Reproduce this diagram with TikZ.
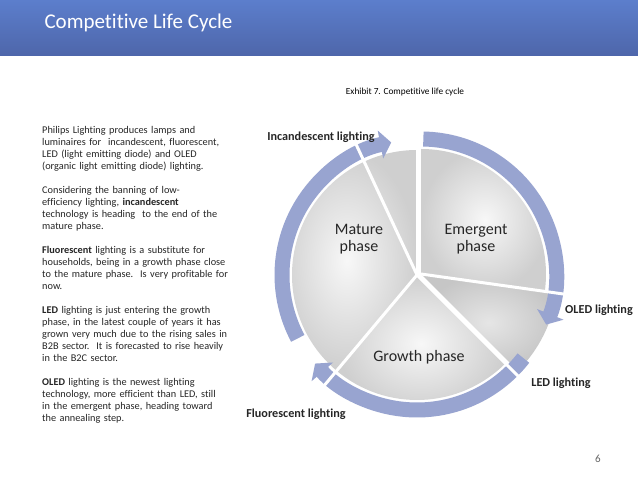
\documentclass[tikz,border=0pt]{standalone}
\usepackage{fontspec}
\setmainfont{Carlito}[Ligatures=NoCommon]
\usetikzlibrary{arrows.meta}
\definecolor{barblue}{RGB}{92,126,204}
\definecolor{bardark}{RGB}{78,102,170}
\definecolor{ringblue}{RGB}{152,164,208}
\tikzset{
  sector/.style={inner color=gray!6, outer color=gray!38, draw=none},
  ring/.style={draw=ringblue, line width=15pt, -{Triangle[width=28pt,length=11pt]}},
  spoke/.style={draw=white, line width=3pt},
  lbl/.style={font=\fontsize{12.2}{13}\selectfont\bfseries, text=black!85},
  phase/.style={font=\fontsize{16}{17}\selectfont, text=black!85, align=center},
  para/.style={font=\fontsize{10.3}{12}\selectfont, text=black!85, align=left,
    text width=190pt, anchor=north west, inner sep=0pt}
}
\hyphenpenalty=10000
\begin{document}
\begin{tikzpicture}[x=1pt,y=1pt]
  \useasboundingbox (0,0) rectangle (638,479);
  \fill[white] (0,0) rectangle (638,479);

  % title bar
  \shade[top color=barblue, bottom color=bardark] (0,479) rectangle (638,423);
  \node[anchor=west, text=white, font=\fontsize{21}{24}\selectfont] (title) at (41,456) {Competitive Life Cycle};
  \node[font=\fontsize{9.3}{10}\selectfont] (exh) at (405,387) {Exhibit 7. Competitive life cycle};
  \node[font=\fontsize{11}{12}\selectfont, text=black!60] (page) at (598,20) {6};

  \newcommand\R{125}
  \coordinate (c) at (417,204);

  % sectors
  \shade[sector] ([shift={(4,1)}]c) -- ++(90:\R) arc[start angle=90,end angle=-8,radius=\R] -- cycle;
  \shade[inner color=gray!20, outer color=gray!45] ([shift={(4,1)}]c) -- ++(-8:\R+12) arc[start angle=-8,end angle=-45,radius=\R+12] -- cycle;
  \shade[sector] (c) -- ++(-45:\R) arc[start angle=-45,end angle=-130,radius=\R] -- cycle;
  \shade[sector] (c) -- ++(230:\R) arc[start angle=230,end angle=90,radius=\R] -- cycle;

  % cycle arrows
  \draw[ring] ([shift={(4,1)}]c) ++(89:135) arc[start angle=89,end angle=-22,radius=135];
  \draw[ring] (c) ++(-38:135) arc[start angle=-38,end angle=-139,radius=135];
  \draw[ring] (c) ++(208:135) arc[start angle=208,end angle=101,radius=135];

  % white gaps
  \foreach \a in {-45,230,115}
    \draw[spoke] (c) -- ++(\a:150);
  \draw[spoke] ([shift={(4,1)}]c) -- ++(-8:150);
  \draw[draw=white, line width=5pt] ([shift={(1,0)}]c) -- ++(90:160);

  % phase labels
  \node[phase] (emergent) at (476,240) {Emergent\\phase};
  \node[phase] (mature) at (359,240) {Mature\\phase};
  \node[phase] (growth) at (419,122) {Growth phase};

  % lighting labels
  \node[lbl] (incand) at (321,342) {Incandescent lighting};
  \node[lbl] (oled) at (599,169) {OLED lighting};
  \node[lbl] (led) at (561,96) {LED lighting};
  \node[lbl] (fluor) at (296,65) {Fluorescent lighting};

  % left text
  \node[para] (p1) at (42,353) {Philips Lighting produces lamps and luminaires for\ \ incandescent, fluorescent, LED (light emitting diode) and OLED (organic light emitting diode) lighting.};
  \node[para] (p2) at (42,293) {Considering the banning of low-\\efficiency lighting, \textbf{incandescent}\\technology is heading\ \ to the end of the\\mature phase.};
  \node[para] (p3) at (42,233) {\textbf{Fluorescent} lighting is a substitute for households, being in a growth phase close to the mature phase.\ \ Is very profitable for now.};
  \node[para] (p4) at (42,173) {\textbf{LED} lighting is just entering the growth phase, in the latest couple of years it has grown very much due to the rising sales in B2B sector.\ \ It is forecasted to rise heavily in the B2C sector.};
  \node[para] (p5) at (42,101) {\textbf{OLED} lighting is the newest lighting\\technology, more efficient than LED, still\\in the emergent phase, heading toward\\the annealing step.};
\end{tikzpicture}
\end{document}
